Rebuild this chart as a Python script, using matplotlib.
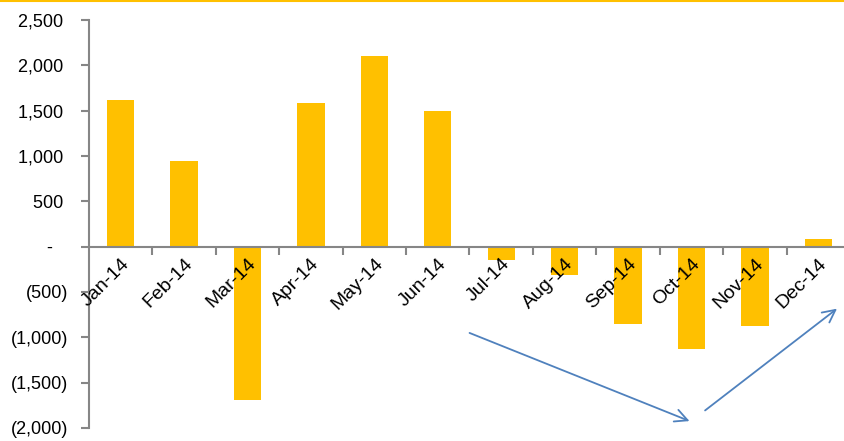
import matplotlib

matplotlib.use('Agg')
import matplotlib.pyplot as plt
from matplotlib.lines import Line2D
from matplotlib.ticker import FuncFormatter, FixedLocator
import numpy as np

# Ma'lumotlar
months = ["Jan-14", "Feb-14", "Mar-14", "Apr-14", "May-14", "Jun-14",
          "Jul-14", "Aug-14", "Sep-14", "Oct-14", "Nov-14", "Dec-14"]
values = [1615, 940, -1690, 1590, 2100, 1495, -145, -315, -850, -1125, -880, 85]

# Strelkalar (boshlanish, oxir) - kategoriya/qiymat koordinatalarida
arrows = [((5.46, -940), (9.01, -1935)),
          ((9.18, -1825), (11.33, -665))]

BAR_COLOR = "#FFC000"
ARROW_COLOR = "#4F81BD"
AXIS_COLOR = "#868686"

plt.rcParams['font.family'] = ['Liberation Sans', 'DejaVu Sans']


def acc_fmt(v, pos):
    """Excel 'accounting' formatiga o'xshash."""
    if abs(v) < 1e-9:
        return "-   "
    if v < 0:
        return "({:,.0f})".format(-v)
    return "{:,.0f} ".format(v)


fig = plt.figure(figsize=(8.45, 4.41), dpi=100)
ax = fig.add_axes([89 / 845, 1 - 428 / 441, 761 / 845, 408 / 441])

x = np.arange(len(months))
ax.bar(x, values, width=0.43, color=BAR_COLOR, zorder=0.5)
ax.set_axisbelow(False)  # yozuvlar ustunlar ustida

ax.set_xlim(-0.5, len(months) - 0.5)
ax.set_ylim(-2000, 2500)
ax.set_yticks(np.arange(-2000, 2501, 500))
ax.yaxis.set_major_formatter(FuncFormatter(acc_fmt))

# O'qlar
for s in ['top', 'right']:
    ax.spines[s].set_visible(False)
ax.spines['left'].set_color(AXIS_COLOR)
ax.spines['left'].set_linewidth(1.5)
ax.spines['bottom'].set_position(('data', 0))
ax.spines['bottom'].set_color(AXIS_COLOR)
ax.spines['bottom'].set_linewidth(1.5)

ax.tick_params(axis='y', direction='out', length=6, width=1.5, color=AXIS_COLOR,
               labelsize=13, pad=9)
ax.set_xticks(x)
ax.set_xticklabels(months)
ax.tick_params(axis='x', which='major', length=0, labelsize=14, pad=6)
ax.xaxis.set_minor_locator(FixedLocator(np.arange(0.5, len(months) - 0.5, 1)))
ax.tick_params(axis='x', which='minor', direction='out', length=6, width=1.5, color=AXIS_COLOR)
for lbl in ax.get_xticklabels():
    lbl.set_rotation(45)
    lbl.set_ha('right')
    lbl.set_va('top')
    lbl.set_rotation_mode('anchor')

for (x0, y0), (x1, y1) in arrows:
    ax.annotate("", xy=(x1, y1), xytext=(x0, y0), annotation_clip=False,
                arrowprops=dict(arrowstyle='->,head_length=0.9,head_width=0.45',
                                color=ARROW_COLOR, lw=1.3))

# Yuqori sariq chiziq
fig.add_artist(Line2D([0, 1], [0.998, 0.998], transform=fig.transFigure,
                      color=BAR_COLOR, lw=1.5))

fig.savefig("out.png", dpi=100)
